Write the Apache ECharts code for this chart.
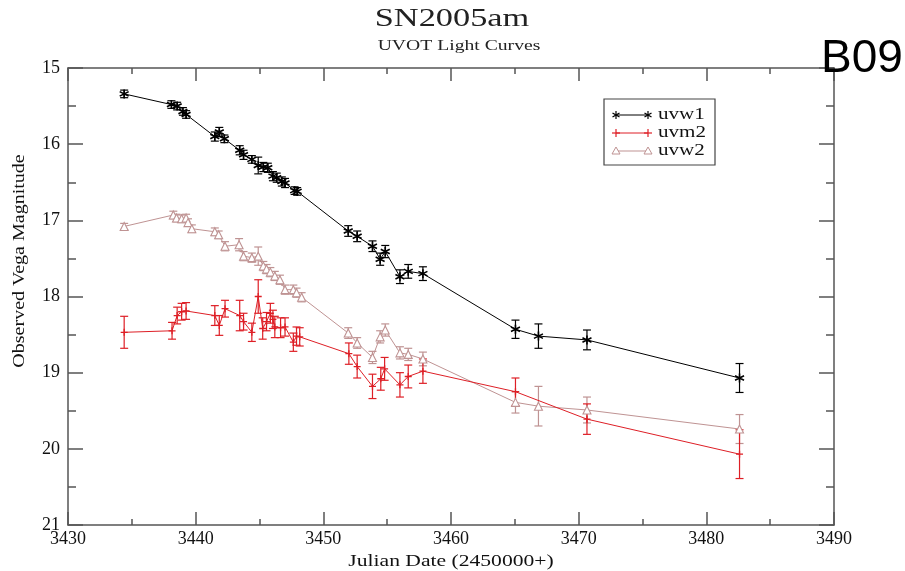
<!DOCTYPE html>
<html>
<head>
<meta charset="utf-8">
<script src="https://cdn.jsdelivr.net/npm/echarts@6/dist/echarts.min.js"></script>
<style>
  html, body { margin: 0; padding: 0; background: #fff; }
  #chart { width: 905px; height: 571px; }
</style>
</head>
<body>
<div id="chart"></div>
<script>
// observation dates (JD - 2450000) and magnitudes with errors
const uvw1Date = [3434.4, 3438.1, 3438.55, 3439.0, 3439.25, 3441.5, 3441.85, 3442.25, 3443.45, 3443.75, 3444.4, 3444.9, 3445.3, 3445.65, 3446.05, 3446.35, 3446.75, 3447.0, 3447.75, 3447.95, 3451.95, 3452.65, 3453.85, 3454.45, 3454.85, 3456.0, 3456.65, 3457.8, 3465.05, 3466.85, 3470.65, 3482.6];
const uvw1Mag = [15.34, 15.48, 15.50, 15.57, 15.61, 15.90, 15.84, 15.93, 16.08, 16.14, 16.20, 16.28, 16.30, 16.31, 16.42, 16.44, 16.49, 16.51, 16.61, 16.62, 17.14, 17.21, 17.34, 17.51, 17.41, 17.74, 17.67, 17.70, 18.43, 18.52, 18.57, 19.07];
const uvw1Err = [0.05, 0.05, 0.05, 0.05, 0.05, 0.06, 0.06, 0.05, 0.06, 0.06, 0.05, 0.11, 0.06, 0.06, 0.06, 0.06, 0.06, 0.06, 0.05, 0.05, 0.07, 0.07, 0.07, 0.08, 0.08, 0.09, 0.09, 0.09, 0.12, 0.16, 0.13, 0.19];

const uvm2Date = [3434.4, 3438.15, 3438.55, 3438.9, 3439.25, 3441.5, 3441.85, 3442.3, 3443.45, 3443.75, 3444.4, 3444.9, 3445.25, 3445.55, 3445.85, 3446.05, 3446.2, 3446.65, 3447.0, 3447.65, 3447.9, 3448.15, 3452.0, 3452.65, 3453.85, 3454.5, 3454.8, 3456.0, 3456.65, 3457.8, 3465.05, 3470.65, 3482.6];
const uvm2Mag = [18.47, 18.45, 18.25, 18.20, 18.19, 18.25, 18.38, 18.16, 18.25, 18.33, 18.47, 18.00, 18.42, 18.33, 18.22, 18.30, 18.40, 18.41, 18.40, 18.60, 18.52, 18.53, 18.75, 18.92, 19.18, 19.08, 18.95, 19.16, 19.05, 18.98, 19.25, 19.61, 20.07];
const uvm2Err = [0.21, 0.11, 0.11, 0.11, 0.11, 0.13, 0.13, 0.11, 0.20, 0.11, 0.12, 0.22, 0.14, 0.12, 0.13, 0.12, 0.14, 0.13, 0.12, 0.12, 0.12, 0.12, 0.14, 0.15, 0.16, 0.15, 0.15, 0.16, 0.15, 0.16, 0.18, 0.20, 0.32];

const uvw2Date = [3434.4, 3438.25, 3438.5, 3438.9, 3439.25, 3439.4, 3439.7, 3441.5, 3441.8, 3442.3, 3443.4, 3443.75, 3444.4, 3444.9, 3445.3, 3445.55, 3445.85, 3446.2, 3446.6, 3447.0, 3447.65, 3447.9, 3448.3, 3451.95, 3452.65, 3453.85, 3454.45, 3454.85, 3456.0, 3456.65, 3457.8, 3465.05, 3466.85, 3470.65, 3482.6];
const uvw2Mag = [17.08, 16.93, 16.97, 16.98, 16.97, 17.03, 17.11, 17.15, 17.19, 17.34, 17.32, 17.47, 17.49, 17.47, 17.60, 17.64, 17.68, 17.73, 17.78, 17.91, 17.91, 17.95, 18.01, 18.48, 18.61, 18.80, 18.53, 18.44, 18.74, 18.76, 18.82, 19.39, 19.44, 19.49, 19.74];
const uvw2Err = [0.04, 0.05, 0.05, 0.05, 0.05, 0.05, 0.05, 0.05, 0.05, 0.06, 0.08, 0.06, 0.06, 0.12, 0.06, 0.06, 0.06, 0.06, 0.06, 0.06, 0.06, 0.06, 0.06, 0.07, 0.07, 0.08, 0.08, 0.08, 0.08, 0.08, 0.09, 0.14, 0.26, 0.17, 0.19];

const serif = "'Liberation Serif', 'DejaVu Serif', serif";
const BLACK = "#000000";
const RED = "#de1f26";
const PINK = "#bf9393";
const TXT = "#111";

const starPath = "path://M0,-5L0,5M-4.3,-2.5L4.3,2.5M-4.3,2.5L4.3,-2.5";
const plusPath = "path://M0,-5L0,5M-5,0L5,0";

const chart = echarts.init(document.getElementById("chart"));

const pts = (xs, ys) => xs.map((x, i) => [x, ys[i]]);
const errPts = (xs, ys, es) => xs.map((x, i) => [x, ys[i], es[i]]);

const errorBars = (name, data, color) => ({
  name,
  type: "custom",
  data,
  encode: { x: 0, y: 1 },
  z: 3,
  renderItem: (params, api) => {
    const x = api.value(0), y = api.value(1), e = api.value(2);
    const top = api.coord([x, y - e]);
    const bot = api.coord([x, y + e]);
    const w = 4;
    const style = { stroke: color, lineWidth: 1.2 };
    return {
      type: "group",
      children: [
        { type: "line", shape: { x1: top[0], y1: top[1], x2: bot[0], y2: bot[1] }, style },
        { type: "line", shape: { x1: top[0] - w, y1: top[1], x2: top[0] + w, y2: top[1] }, style },
        { type: "line", shape: { x1: bot[0] - w, y1: bot[1], x2: bot[0] + w, y2: bot[1] }, style },
      ],
    };
  },
});

const lineSeries = (name, data, color, symbol, size, fill, bw) => ({
  name,
  type: "line",
  data,
  symbol,
  symbolSize: size,
  showAllSymbol: true,
  z: 4,
  lineStyle: { color, width: 1 },
  itemStyle: { color: fill, borderColor: color, borderWidth: bw },
});

const frame = { lineStyle: { color: "#555", width: 1.5 } };
const tickStyle = { color: "#555", width: 1.5 };

// legend drawn by hand: line with a marker at both ends
const seg = (x1, y1, x2, y2, color) => ({ type: "line", z: 11, shape: { x1, y1, x2, y2 }, style: { stroke: color, lineWidth: 1.2 } });
const starMark = (cx, cy) => [
  seg(cx, cy - 4, cx, cy + 4, BLACK),
  seg(cx - 3.5, cy - 2, cx + 3.5, cy + 2, BLACK),
  seg(cx - 3.5, cy + 2, cx + 3.5, cy - 2, BLACK),
];
const plusMark = (cx, cy) => [seg(cx, cy - 4, cx, cy + 4, RED), seg(cx - 4, cy, cx + 4, cy, RED)];
const triMark = (cx, cy) => [
  { type: "polygon", z: 12, shape: { points: [[cx, cy - 4], [cx + 4, cy + 3], [cx - 4, cy + 3]] }, style: { stroke: PINK, fill: "#fff", lineWidth: 1 } },
];
const legendRow = (y, color, text, marker) => [
  { type: "line", z: 11, shape: { x1: 616, y1: y, x2: 648, y2: y }, style: { stroke: color, lineWidth: 1 } },
  ...marker(616, y),
  ...marker(648, y),
  { type: "text", z: 11, x: 658, y: y, scaleX: 1.24, style: { text, fill: TXT, font: "17px " + serif, textVerticalAlign: "middle" } },
];

chart.setOption({
  animation: false,
  backgroundColor: "#fff",
  grid: { left: 68, right: 71, top: 68, bottom: 46, containLabel: false, outerBoundsMode: "none" },
  xAxis: [
    {
      type: "value", min: 3430, max: 3490, interval: 10,
      axisLine: frame,
      axisTick: { inside: true, length: 13, lineStyle: tickStyle },
      minorTick: { show: true, splitNumber: 2, length: 6, lineStyle: tickStyle },
      axisLabel: { fontFamily: serif, fontSize: 18, color: TXT, margin: 5, formatter: (v) => String(v) },
      splitLine: { show: false },
    },
    {
      type: "value", position: "top", min: 3430, max: 3490, interval: 10,
      axisLine: frame,
      axisTick: { inside: true, length: 13, lineStyle: tickStyle },
      minorTick: { show: true, splitNumber: 2, length: 6, lineStyle: tickStyle },
      axisLabel: { show: false },
      splitLine: { show: false },
    },
  ],
  yAxis: [
    {
      type: "value", inverse: true, min: 15, max: 21, interval: 1,
      axisLine: frame,
      axisTick: { inside: true, length: 15, lineStyle: tickStyle },
      minorTick: { show: true, splitNumber: 2, length: 8, lineStyle: tickStyle },
      axisLabel: { fontFamily: serif, fontSize: 18, color: TXT, margin: 8 },
      splitLine: { show: false },
    },
    {
      type: "value", position: "right", inverse: true, min: 15, max: 21, interval: 1,
      axisLine: frame,
      axisTick: { inside: true, length: 15, lineStyle: tickStyle },
      minorTick: { show: true, splitNumber: 2, length: 8, lineStyle: tickStyle },
      axisLabel: { show: false },
      splitLine: { show: false },
    },
  ],
  series: [
    errorBars("uvw2 err", errPts(uvw2Date, uvw2Mag, uvw2Err), PINK),
    lineSeries("uvw2", pts(uvw2Date, uvw2Mag), PINK, "triangle", 8, "#fff", 1.1),
    errorBars("uvm2 err", errPts(uvm2Date, uvm2Mag, uvm2Err), RED),
    lineSeries("uvm2", pts(uvm2Date, uvm2Mag), RED, plusPath, 7, RED, 1.3),
    errorBars("uvw1 err", errPts(uvw1Date, uvw1Mag, uvw1Err), BLACK),
    lineSeries("uvw1", pts(uvw1Date, uvw1Mag), BLACK, starPath, 9, BLACK, 1.6),
  ],
  graphic: [
    // titles and axis names (the original lettering is wide, hence scaleX)
    { type: "text", x: 452, y: 19, scaleX: 1.32, style: { text: "SN2005am", fill: "#222", font: "26px " + serif, textAlign: "center", textVerticalAlign: "middle" } },
    { type: "text", x: 459, y: 46, scaleX: 1.31, style: { text: "UVOT Light Curves", fill: "#222", font: "15px " + serif, textAlign: "center", textVerticalAlign: "middle" } },
    { type: "text", x: 451, y: 562, scaleX: 1.35, style: { text: "Julian Date (2450000+)", fill: TXT, font: "16px " + serif, textAlign: "center", textVerticalAlign: "middle" } },
    { type: "text", x: 20, y: 261, rotation: Math.PI / 2, scaleX: 1.25, style: { text: "Observed Vega Magnitude", fill: TXT, font: "16px " + serif, textAlign: "center", textVerticalAlign: "middle" } },
    { type: "rect", z: 10, shape: { x: 604, y: 99, width: 111, height: 66 }, style: { stroke: "#444", fill: "#fff", lineWidth: 1.2 } },
    ...legendRow(115, BLACK, "uvw1", starMark),
    ...legendRow(133, RED, "uvm2", plusMark),
    ...legendRow(151, PINK, "uvw2", triMark),
    { type: "text", x: 821, y: 36, z: 12, style: { text: "B09", fill: "#000", font: "46px 'Liberation Sans', Arial, sans-serif" } },
  ],
});
</script>
</body>
</html>
